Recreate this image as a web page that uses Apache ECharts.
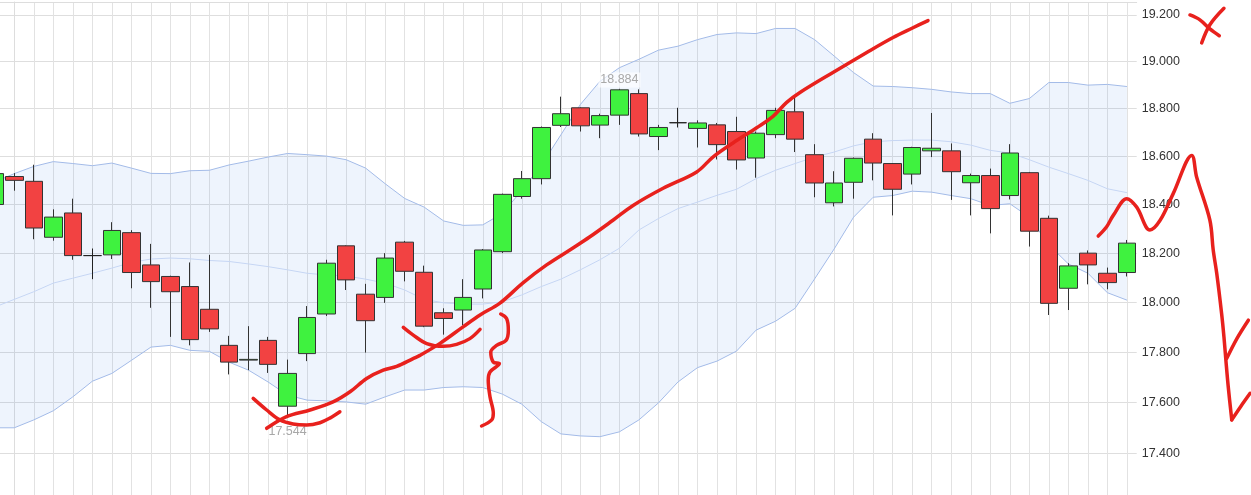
<!DOCTYPE html>
<html><head><meta charset="utf-8">
<script src="https://cdn.jsdelivr.net/npm/echarts@6/dist/echarts.min.js"></script>
<style>html,body{margin:0;padding:0;background:#fff}#c{width:1251px;height:495px}</style>
</head><body><div id="c"></div>
<script>
// OHLC as [open, close, low, high]
const opens  = [18.400,18.516,18.496,18.265,18.365,18.190,18.193,18.284,18.152,18.105,18.064,17.972,17.827,17.768,17.847,17.585,17.794,17.953,18.230,18.033,18.020,18.245,18.122,17.958,17.969,18.054,18.206,18.433,18.507,18.730,18.804,18.731,18.773,18.864,18.683,18.741,18.717,18.732,18.704,18.593,18.691,18.787,18.607,18.407,18.492,18.672,18.570,18.526,18.623,18.623,18.490,18.520,18.437,18.532,18.343,18.057,18.200,18.118,18.121];
const closes = [18.528,18.500,18.303,18.348,18.190,18.190,18.293,18.121,18.084,18.043,17.850,17.893,17.760,17.771,17.751,17.715,17.939,18.159,18.091,17.926,18.180,18.126,17.904,17.935,18.020,18.213,18.442,18.507,18.721,18.779,18.728,18.771,18.880,18.694,18.721,18.741,18.740,18.649,18.585,18.697,18.793,18.672,18.489,18.489,18.592,18.572,18.463,18.637,18.634,18.536,18.520,18.383,18.614,18.290,17.996,18.148,18.152,18.080,18.241];
const lows   = [18.390,18.457,18.257,18.251,18.173,18.094,18.176,18.057,17.978,17.861,17.827,17.881,17.711,17.728,17.717,17.544,17.764,17.945,18.050,17.798,17.998,18.085,17.900,17.870,17.908,18.016,18.200,18.424,18.483,18.723,18.704,18.676,18.732,18.683,18.626,18.721,18.637,18.587,18.545,18.511,18.676,18.618,18.430,18.392,18.424,18.500,18.355,18.483,18.597,18.419,18.355,18.281,18.421,18.227,17.949,17.969,18.073,18.053,18.105];
const highs  = [18.560,18.530,18.565,18.380,18.424,18.219,18.327,18.294,18.238,18.108,18.162,18.193,17.865,17.904,17.861,17.770,17.985,18.173,18.232,18.075,18.200,18.250,18.149,17.976,18.094,18.217,18.445,18.539,18.725,18.851,18.806,18.779,18.884,18.882,18.732,18.804,18.751,18.740,18.766,18.704,18.804,18.847,18.651,18.538,18.595,18.697,18.572,18.640,18.782,18.654,18.528,18.549,18.651,18.535,18.354,18.159,18.211,18.141,18.254];

// Bollinger bands
const upperBand  = [18.493,18.528,18.558,18.578,18.570,18.561,18.572,18.551,18.529,18.528,18.540,18.542,18.564,18.580,18.597,18.612,18.607,18.601,18.586,18.551,18.486,18.425,18.389,18.332,18.314,18.316,18.363,18.458,18.563,18.690,18.818,18.916,18.974,19.010,19.049,19.066,19.094,19.116,19.123,19.120,19.142,19.142,19.094,19.024,18.953,18.896,18.894,18.889,18.882,18.871,18.864,18.864,18.823,18.843,18.911,18.911,18.900,18.903,18.894];
const middleBand = [17.981,18.012,18.043,18.078,18.098,18.118,18.139,18.162,18.176,18.180,18.177,18.170,18.166,18.156,18.145,18.132,18.118,18.111,18.107,18.094,18.078,18.050,18.012,17.998,17.993,17.993,18.002,18.030,18.064,18.094,18.132,18.173,18.220,18.295,18.342,18.383,18.410,18.438,18.463,18.507,18.542,18.570,18.597,18.618,18.644,18.661,18.666,18.668,18.668,18.661,18.647,18.625,18.614,18.586,18.555,18.528,18.500,18.465,18.449];
const lowerBand  = [17.500,17.500,17.531,17.567,17.622,17.684,17.715,17.767,17.820,17.827,17.807,17.803,17.760,17.728,17.681,17.629,17.609,17.606,17.602,17.593,17.622,17.649,17.649,17.659,17.662,17.659,17.633,17.593,17.524,17.476,17.468,17.465,17.484,17.531,17.598,17.681,17.738,17.764,17.804,17.888,17.924,17.976,18.095,18.217,18.348,18.430,18.437,18.455,18.451,18.437,18.424,18.396,18.403,18.348,18.234,18.156,18.118,18.039,18.009];

const yTicks = [17.4,17.6,17.8,18.0,18.2,18.4,18.6,18.8,19.0,19.2];

// hand-drawn red annotations, [position index, price]
const strokeA = [[12.93,17.498],[13.95,17.544],[15.15,17.570],[16.33,17.602],[17.20,17.642],[18.05,17.695],[18.90,17.728],[19.59,17.743],[20.43,17.774],[20.78,17.787],[21.81,17.835],[22.99,17.901],[23.86,17.949],[24.88,17.997],[26.06,18.079],[27.27,18.152],[28.62,18.221],[29.49,18.267],[30.67,18.335],[31.70,18.396],[33.24,18.467],[34.96,18.535],[35.79,18.597],[36.82,18.656],[38.03,18.720],[38.87,18.768],[39.57,18.827],[40.25,18.869],[41.94,18.954],[43.67,19.039],[45.02,19.103],[46.04,19.145],[46.81,19.176]];
const strokeB = [[12.24,17.616],[12.93,17.570],[13.61,17.531],[14.28,17.515],[14.98,17.511],[15.66,17.520],[16.17,17.538],[16.68,17.563]];
const strokeC = [[19.93,17.899],[20.44,17.868],[21.13,17.834],[21.98,17.823],[22.66,17.831],[23.34,17.854],[23.86,17.891]];
const strokeD = [[24.92,17.953],[25.22,17.935],[25.31,17.888],[25.19,17.847],[24.71,17.827],[24.41,17.800],[24.54,17.760],[24.85,17.754],[24.37,17.721],[24.28,17.688],[24.37,17.622],[24.54,17.557],[24.46,17.531],[23.94,17.507]];
const strokeE = [[55.53,18.270],[55.96,18.308],[56.30,18.355],[56.99,18.424],[57.50,18.389],[58.18,18.295],[58.70,18.335],[59.37,18.445],[60.32,18.604],[60.57,18.514],[61.25,18.335],[61.42,18.213],[61.60,18.118],[61.85,17.955],[61.97,17.861],[62.07,17.767],[62.19,17.662],[62.37,17.531]];
const strokeF = [[62.11,17.774],[62.64,17.855],[63.22,17.928]];
const strokeG = [[62.37,17.531],[62.84,17.585],[63.31,17.636]];
const strokeH1 = [[60.23,19.200],[60.74,19.179],[61.25,19.140],[61.73,19.111]];
const strokeH2 = [[61.97,19.229],[61.25,19.158],[60.83,19.080]];

const categories = opens.map((_, i) => String(i));
const ohlc = opens.map((o, i) => [o, closes[i], lows[i], highs[i]]);
const bandDiff = upperBand.map((u, i) => +(u - lowerBand[i]).toFixed(4));

const chart = echarts.init(document.getElementById('c'), null, {renderer: 'canvas'});
const bandLine = '#a3bbe8';
const redPen = {color: '#e8211d', width: 3.5, cap: 'round', join: 'round'};
const yMin = 17.2378, yMax = 19.2561;
function stroke(data) {
  return {type: 'line', xAxisIndex: 2, yAxisIndex: 1, data: data, showSymbol: false, symbol: 'none',
    smooth: 0.35, clip: false, lineStyle: redPen, z: 10, silent: true};
}
chart.setOption({
  animation: false,
  textStyle: {fontFamily: 'Liberation Sans, Arial, sans-serif'},
  grid: [
    {left: -15, right: 114.3, top: 2, bottom: 0, containLabel: false, outerBoundsMode: 'none'},
    {left: 0, right: 0, top: 2, bottom: 0, containLabel: false, outerBoundsMode: 'none'}
  ],
  xAxis: [{
    type: 'category', gridIndex: 0, data: categories, boundaryGap: true, position: 'top',
    axisLine: {show: true, lineStyle: {color: '#dddddd', width: 1}},
    axisTick: {show: false}, axisLabel: {show: false},
    splitLine: {show: true, alignWithLabel: true, lineStyle: {color: '#e2e2e2', width: 1}}
  }, {
    type: 'value', gridIndex: 0, min: -1.5, max: 57.5, show: false, splitLine: {show: false}
  }, {
    type: 'value', gridIndex: 1, min: -0.7316, max: 63.356, show: false, splitLine: {show: false}
  }],
  yAxis: [{
    type: 'log', gridIndex: 0, logBase: 10, position: 'right', min: yMin, max: yMax,
    axisLine: {show: true, lineStyle: {color: '#dddddd', width: 1}},
    axisTick: {show: false, customValues: yTicks},
    axisLabel: {customValues: yTicks, color: '#333', fontSize: 12.5, margin: 5,
      fontFamily: 'Liberation Sans, Arial, sans-serif', formatter: v => Number(v).toFixed(3)},
    splitLine: {show: true, lineStyle: {color: '#dedede', width: 1}}
  }, {
    type: 'log', gridIndex: 1, logBase: 10, min: yMin, max: yMax, show: false, splitLine: {show: false}
  }],
  series: [
    {name: 'lowerBase', type: 'line', stack: 'band', data: lowerBand, symbol: 'none',
      lineStyle: {opacity: 0}, z: 1, silent: true},
    {name: 'bandFill', type: 'line', stack: 'band', data: bandDiff, symbol: 'none',
      lineStyle: {opacity: 0}, areaStyle: {color: 'rgba(63,122,230,0.12)'}, z: 1, silent: true},
    {name: 'upper', type: 'line', data: upperBand, symbol: 'none', lineStyle: {color: bandLine, width: 1}, z: 2, silent: true},
    {name: 'lower', type: 'line', data: lowerBand, symbol: 'none', lineStyle: {color: bandLine, width: 1}, z: 2, silent: true},
    {name: 'middle', type: 'line', data: middleBand, symbol: 'none', lineStyle: {color: '#c6d6f4', width: 1}, z: 2, silent: true},
    {name: 'price', type: 'candlestick', data: ohlc, barWidth: 18, z: 5,
      itemStyle: {color: '#3ff23f', color0: '#f24242', borderColor: '#333', borderColor0: '#333', borderColorDoji: '#222', borderWidth: 1},
      markPoint: {
        symbol: 'circle', symbolSize: 1, itemStyle: {color: 'rgba(0,0,0,0)'}, z: 6,
        label: {color: '#a8a8a8', fontSize: 12.5, fontFamily: 'Liberation Sans, Arial, sans-serif',
          backgroundColor: 'rgba(255,255,255,0.65)', padding: [1, 2], formatter: p => Number(p.value).toFixed(3)},
        data: [
          {type: 'max', valueDim: 'highest', label: {position: 'top', distance: 1}},
          {type: 'min', valueDim: 'lowest', label: {position: 'bottom', distance: 7}}
        ]
      }
    },
    stroke(strokeA), stroke(strokeB), stroke(strokeC), stroke(strokeD), stroke(strokeE),
    stroke(strokeF), stroke(strokeG), stroke(strokeH1), stroke(strokeH2)
  ]
});
</script></body></html>
